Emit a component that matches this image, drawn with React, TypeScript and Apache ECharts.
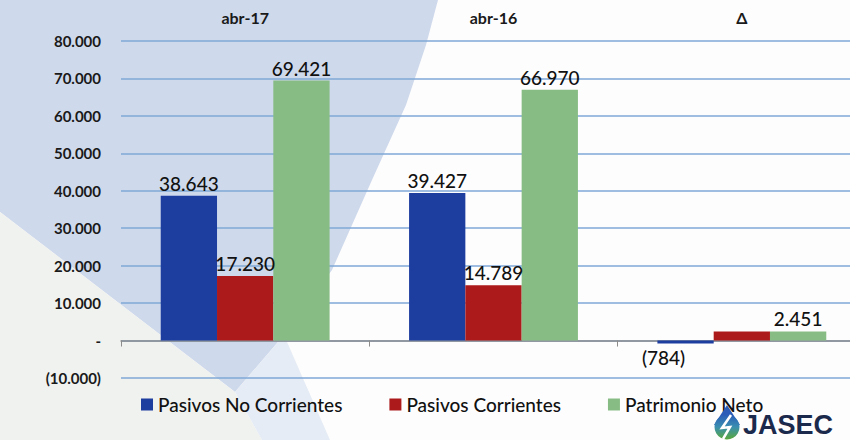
import React, { useEffect, useRef } from "react";
import * as echarts from "echarts";

const categories = ["abr-17", "abr-16", "Δ"];
const seriesNames = ["Pasivos No Corrientes", "Pasivos Corrientes", "Patrimonio Neto"];
const pasivosNoCorrientes = [38643, 39427, -784];
const pasivosCorrientes = [17230, 14789, 2441];
const patrimonioNeto = [69421, 66970, 2451];
const yTicks = { min: -10000, max: 80000, interval: 10000 };

function fmt(v: number): string {
  if (v === 0) return "-";
  if (v < 0) return "(" + fmt(-v) + ")";
  return String(Math.round(v)).replace(/\B(?=(\d{3})+(?!\d))/g, ".");
}

const FONT = "Lato, 'Noto Sans', sans-serif";

export default function App() {
  const ref = useRef<HTMLDivElement>(null);
  useEffect(() => {
    if (!ref.current) return;
    const chart = echarts.init(ref.current, undefined, { renderer: "svg" });
    const labelBase = {
      show: true,
      position: "top" as const,
      distance: 3,
      fontFamily: FONT,
      fontSize: 19,
      fontWeight: 500,
      color: "#111",
      formatter: (p: any) => fmt(p.value),
    };
    chart.setOption({
      animation: false,
      backgroundColor: "#fdfdfd",
      textStyle: { fontFamily: FONT },
      graphic: [
        {
          type: "polygon",
          z: -10,
          silent: true,
          shape: {
            points: [
              [0, 0], [438, 0], [426, 45], [406, 105], [372, 180], [332, 270],
              [284, 335], [235, 392], [0, 212],
            ],
          },
          style: { fill: "#cfd9ec" },
        },
        {
          type: "polygon",
          z: -10,
          silent: true,
          shape: { points: [[0, 212], [235, 392], [262, 440], [0, 440]] },
          style: { fill: "#f0f2f0" },
        },
        {
          type: "polygon",
          z: -10,
          silent: true,
          shape: { points: [[235, 392], [284, 335], [330, 440], [262, 440]] },
          style: { fill: "#e6ecf5" },
        },
        {
          type: "group",
          z: 100,
          children: [
            {
              type: "polygon",
              z: 100,
              shape: { points: [[727, 405], [714, 425], [740, 425]] },
              style: { fill: "#2a5cb8" },
            },
            {
              type: "circle",
              z: 100,
              shape: { cx: 727, cy: 427, r: 12.5 },
              style: {
                fill: new echarts.graphic.LinearGradient(0, 0, 0, 1, [
                  { offset: 0, color: "#2a5cb8" },
                  { offset: 0.5, color: "#3a8fb0" },
                  { offset: 1, color: "#5aa83a" },
                ]),
              },
            },
            {
              type: "polyline",
              z: 101,
              shape: { points: [[731, 415], [722, 428], [730, 427], [723, 439]] },
              style: { stroke: "#ffffff", lineWidth: 2.5, fill: null },
            },
            {
              type: "text",
              z: 101,
              left: 743,
              top: 411,
              style: {
                text: "JASEC",
                font: "bold 27px 'Liberation Sans', Arial, sans-serif",
                fill: "#1b2a4c",
              },
            },
          ],
        },
      ],
      legend: {
        data: seriesNames,
        left: 136,
        top: 390,
        icon: "rect",
        itemWidth: 12,
        itemHeight: 12,
        itemGap: 47,
        textStyle: { fontFamily: FONT, fontSize: 19, fontWeight: 500, color: "#111" },
      },
      grid: { left: 121, top: 41, right: 0, height: 337, containLabel: false },
      xAxis: [
        {
          type: "category",
          data: categories,
          position: "bottom",
          axisLine: { onZero: true, lineStyle: { color: "#8c8c8c", width: 1.5 } },
          axisTick: { show: true, length: 6, lineStyle: { color: "#8c8c8c" } },
          axisLabel: { show: false },
        },
        {
          type: "category",
          data: categories,
          position: "top",
          axisLine: { show: false },
          axisTick: { show: false },
          axisLabel: {
            margin: 16,
            fontFamily: FONT,
            fontWeight: "bold",
            fontSize: 16,
            color: "#1a1a1a",
          },
        },
      ],
      yAxis: {
        type: "value",
        min: yTicks.min,
        max: yTicks.max,
        interval: yTicks.interval,
        axisLine: { show: false },
        axisTick: { show: false },
        axisLabel: {
          margin: 20,
          fontFamily: FONT,
          fontWeight: "bold",
          fontSize: 15,
          color: "#1a1a1a",
          formatter: (v: number) => fmt(v),
        },
        splitLine: { lineStyle: { color: "#7fa7d6", width: 1.5 } },
      },
      series: [
        {
          name: seriesNames[0],
          type: "bar",
          barGap: "0%",
          barCategoryGap: "32%",
          itemStyle: { color: "#1d3d9f" },
          data: pasivosNoCorrientes.map((v) =>
            v < 0
              ? { value: v, label: { position: "bottom", distance: 5, offset: [-22, 0] } }
              : v
          ),
          label: labelBase,
        },
        {
          name: seriesNames[1],
          type: "bar",
          itemStyle: { color: "#ad1a1b" },
          data: pasivosCorrientes.map((v, i) =>
            i === 2 ? { value: v, label: { show: false } } : v
          ),
          label: labelBase,
        },
        {
          name: seriesNames[2],
          type: "bar",
          itemStyle: { color: "#87bd84" },
          data: patrimonioNeto,
          label: labelBase,
        },
      ],
    });
    return () => chart.dispose();
  }, []);
  return (
    <div
      ref={ref}
      style={{ position: "fixed", left: 0, top: 0, width: 866, height: 440 }}
    />
  );
}
